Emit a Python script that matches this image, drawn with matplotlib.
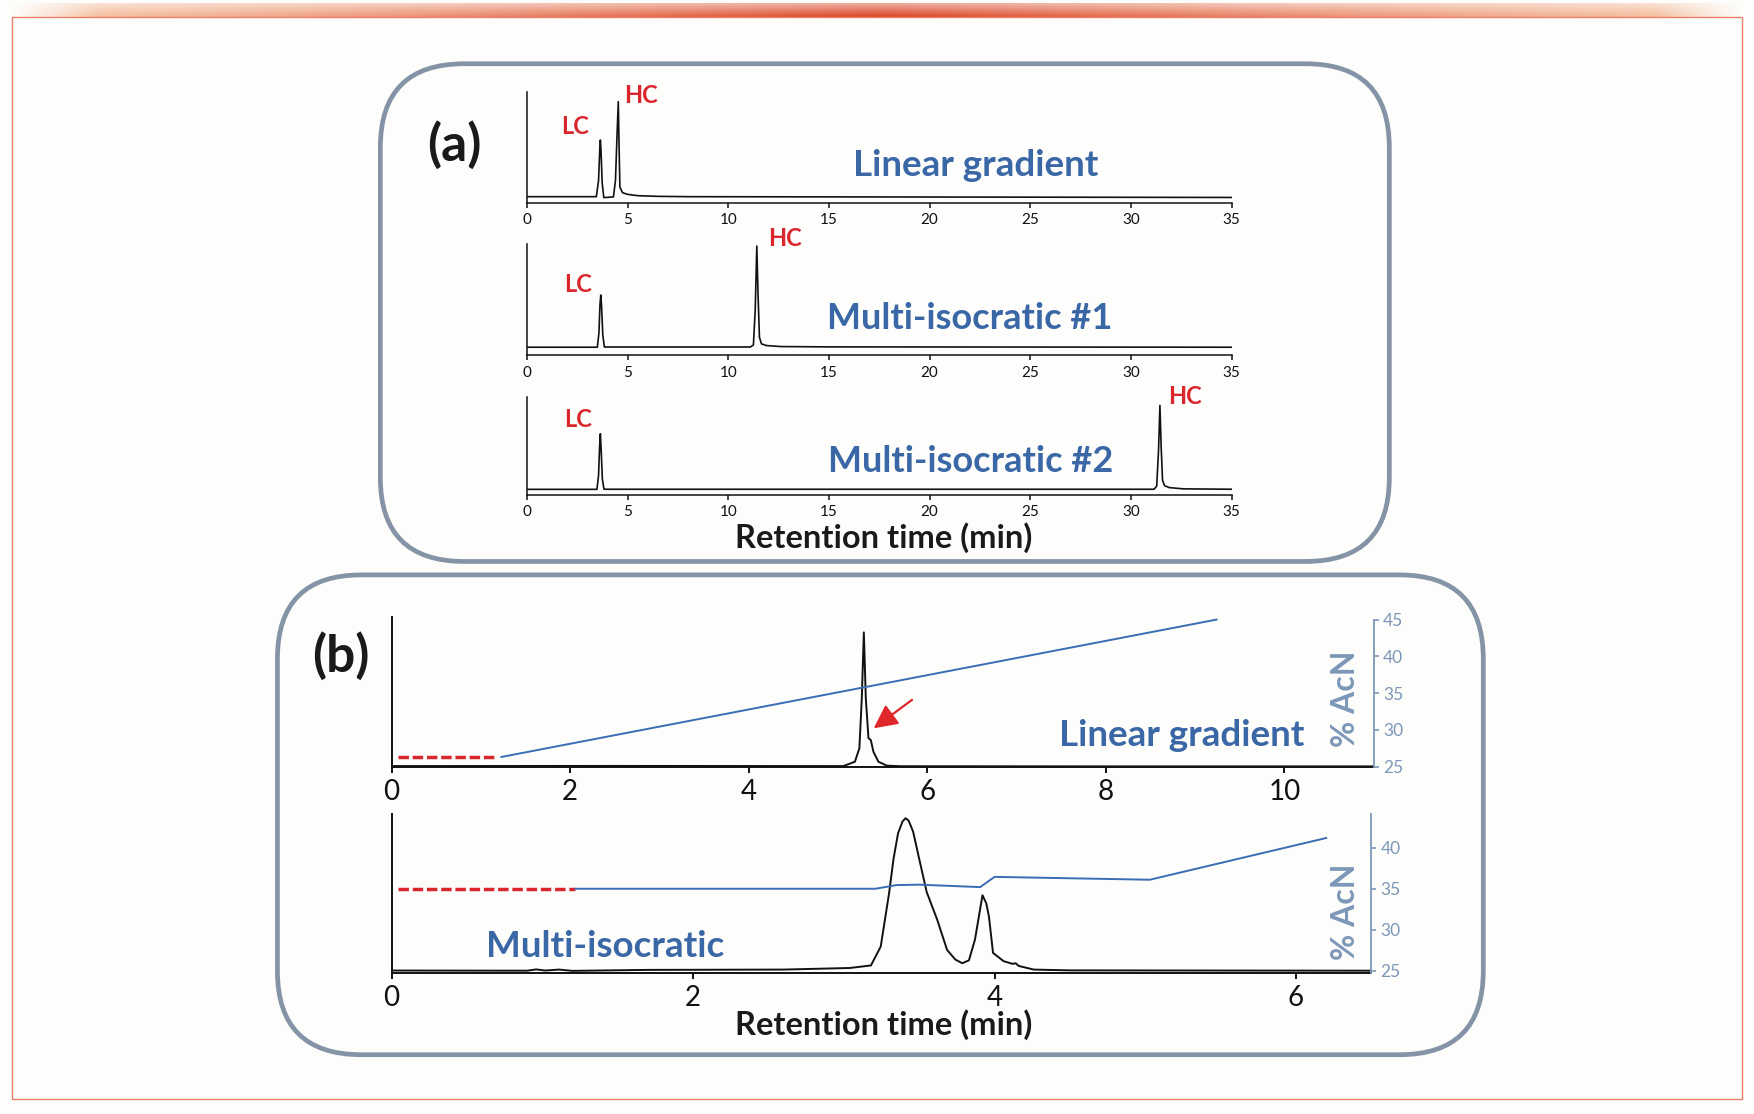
import numpy as np
import matplotlib
matplotlib.use('Agg')
import matplotlib.pyplot as plt
from matplotlib.patches import FancyBboxPatch, Rectangle

plt.rcParams['font.family'] = ['Lato', 'DejaVu Sans']

# ---- data ----
# panel (a): retention time (min) vs detector signal (% of axis height)
a_lin_t = [0, 3.45, 3.56, 3.62, 3.65, 3.68, 3.74, 3.82, 4.0, 4.3, 4.4, 4.48, 4.54,
           4.58, 4.62, 4.75, 5.0, 5.5, 6.5, 8, 35]
a_lin_y = [5.4, 5.4, 20, 48, 56.5, 48, 18, 4.6, 4.8, 5.2, 20, 62, 91,
           50, 14, 9, 7.5, 6.3, 5.7, 5.4, 4.7]

a_iso1_t = [0, 3.5, 3.58, 3.63, 3.67, 3.71, 3.77, 3.85, 11.1, 11.25, 11.34, 11.42,
            11.48, 11.55, 11.65, 11.9, 12.6, 15, 35]
a_iso1_y = [7, 7, 20, 45, 54, 44, 18, 7.2, 7.2, 9, 40, 98,
            55, 16, 10, 8.5, 7.6, 7.3, 7]

a_iso2_t = [0, 3.48, 3.56, 3.61, 3.65, 3.69, 3.75, 3.83, 31.15, 31.28, 31.37, 31.44,
            31.5, 31.57, 31.67, 31.9, 32.6, 35]
a_iso2_y = [5.7, 5.7, 20, 48, 62.5, 46, 16, 5.8, 5.8, 9, 45, 91.5,
            50, 15, 9.5, 7.5, 6.2, 5.8]

a_ticks = [0, 5, 10, 15, 20, 25, 30, 35]

# panel (b), linear gradient run
b_lin_t = [0, 2.5, 4.8, 5.06, 5.19, 5.24, 5.267, 5.29, 5.312, 5.342, 5.368,
           5.397, 5.453, 5.547, 5.7, 8, 11]
b_lin_y = [0.8, 0.9, 0.8, 0.8, 3.7, 12.7, 46, 90, 46, 19.4, 18.2,
           10.4, 3.7, 1.1, 0.7, 0.6, 0.6]
b_lin_equil_t = [0.07, 1.18]
b_lin_equil_acn = [26.3, 26.3]
b_lin_grad_t = [1.23, 9.24]
b_lin_grad_acn = [26.3, 45.0]

# panel (b), multi-isocratic run
b_iso_t = [0, 0.9, 0.96, 1.02, 1.11, 1.2, 1.7, 2.6, 3.04, 3.18, 3.245, 3.30, 3.33,
           3.36, 3.39, 3.41, 3.43, 3.46, 3.50, 3.55, 3.62, 3.685, 3.74, 3.786, 3.83,
           3.87, 3.92, 3.945, 3.963, 3.99, 4.06, 4.12, 4.14, 4.16, 4.26, 4.5, 6.5]
b_iso_y = [1.6, 1.5, 2.3, 1.6, 2.2, 1.4, 2.0, 2.2, 3.2, 4.8, 16.7, 50, 72,
           88, 95.5, 97.5, 96, 89, 72, 51, 33.5, 14.6, 8.5, 6.2, 8,
           21, 49, 44, 35.5, 12.7, 7.5, 5.8, 6.2, 4.5, 2.2, 1.7, 1.5]
b_iso_equil_t = [0.04, 1.22]
b_iso_equil_acn = [35, 35]
b_iso_grad_t = [1.22, 3.21, 3.35, 3.5, 3.905, 4.0, 5.03, 6.2]
b_iso_grad_acn = [35, 35, 35.45, 35.5, 35.2, 36.45, 36.1, 41.2]

# ---- colours ----
BLUE_TXT = '#3a67a6'
RED = '#d9262c'
GRAD_BLUE = '#3a6db3'
ACN = '#7d97b8'
FRAME = '#8593a7'
BG = '#fdfdfb'

W, H = 1568, 996   # layout units (pixels of the reference at this scale)


def box(x0, x1, ytop, ybot):
    return [x0 / W, 1 - ybot / H, (x1 - x0) / W, (ybot - ytop) / H]


fig = plt.figure(figsize=(17.54, 11.14), dpi=100, facecolor=BG)

# background layer: top bar, frame, rounded panels, big labels
bg = fig.add_axes([0, 0, 1, 1])
bg.set_xlim(0, W)
bg.set_ylim(H, 0)
bg.axis('off')

n = 800
u = np.linspace(-1, 1, n)
t = 1 - np.abs(u)
c_edge = np.array([0.97, 0.78, 0.66])
c_mid = np.array([0.86, 0.27, 0.15])
mix = t ** 1.2
bar = np.zeros((12, n, 4))
bar[..., :3] = c_edge + (c_mid - c_edge) * mix[None, :, None]
valpha = np.linspace(0.45, 1, 12)[:, None]
bar[..., 3] = valpha * np.clip(t / 0.1, 0, 1)[None, :]
bg.imshow(bar, extent=[10, 1558, 15, 3], aspect='auto', interpolation='bilinear', zorder=1)

bg.add_patch(Rectangle((11, 15), 1546, 968, fill=False, ec='#ec7f6a', lw=1.0, zorder=1))
bg.add_patch(FancyBboxPatch((340, 57), 902, 445, boxstyle='round,pad=0,rounding_size=75',
                            ec=FRAME, fc=BG, lw=3.4, zorder=2))
bg.add_patch(FancyBboxPatch((248, 514), 1078, 429, boxstyle='round,pad=0,rounding_size=75',
                            ec=FRAME, fc=BG, lw=3.4, zorder=2))

bold = dict(fontweight='bold', ha='center', va='center', zorder=5)
bg.text(406, 130, '(a)', fontsize=37, color='#1a1a1a', **bold)
bg.text(872, 148, 'Linear gradient', fontsize=26.5, color=BLUE_TXT, **bold)
bg.text(867, 285, 'Multi-isocratic #1', fontsize=26, color=BLUE_TXT, **bold)
bg.text(868, 413, 'Multi-isocratic #2', fontsize=26, color=BLUE_TXT, **bold)
bg.text(790, 481, 'Retention time (min)', fontsize=23.5, color='#1a1a1a', **bold)
bg.text(305, 587, '(b)', fontsize=37, color='#1a1a1a', **bold)
bg.text(1056, 658, 'Linear gradient', fontsize=26.5, color=BLUE_TXT, **bold)
bg.text(1203, 625, '% AcN', fontsize=23, color=ACN, rotation=90, **bold)
bg.text(1203, 815, '% AcN', fontsize=23, color=ACN, rotation=90, **bold)
bg.text(541, 846, 'Multi-isocratic', fontsize=26.5, color=BLUE_TXT, **bold)
bg.text(790, 916, 'Retention time (min)', fontsize=23.5, color='#1a1a1a', **bold)


def chrom_axes(rect, xmax, ticks, fs, ticklen, lw):
    ax = fig.add_axes(rect)
    ax.set_facecolor('none')
    ax.set_xlim(0, xmax)
    ax.set_ylim(0, 100)
    ax.set_yticks([])
    ax.set_xticks(ticks)
    for s in ['top', 'right']:
        ax.spines[s].set_visible(False)
    for s in ['left', 'bottom']:
        ax.spines[s].set_linewidth(lw)
        ax.spines[s].set_color('#111111')
    ax.tick_params(axis='x', direction='out', length=ticklen, width=lw,
                   labelsize=fs, pad=4, colors='#111111')
    return ax


def peak_label(ax, x, y, s):
    ax.text(x, y, s, fontsize=17, fontweight='bold', color=RED,
            ha='center', va='center', clip_on=False)


# ---- panel (a) ----
ax1 = chrom_axes(box(471, 1101, 82, 181.2), 35, a_ticks, 11, 3.6, 1.1)
ax1.plot(a_lin_t, a_lin_y, color='#111111', lw=1.2)
peak_label(ax1, 2.39, 68.7, 'LC')
peak_label(ax1, 5.67, 97, 'HC')

ax2 = chrom_axes(box(471, 1101, 218, 317.4), 35, a_ticks, 11, 3.6, 1.1)
ax2.plot(a_iso1_t, a_iso1_y, color='#111111', lw=1.2)
peak_label(ax2, 2.56, 63.8, 'LC')
peak_label(ax2, 12.83, 105, 'HC')

ax3 = chrom_axes(box(471, 1101, 355, 442.5), 35, a_ticks, 11, 3.6, 1.1)
ax3.plot(a_iso2_t, a_iso2_y, color='#111111', lw=1.2)
peak_label(ax3, 2.56, 76.7, 'LC')
peak_label(ax3, 32.7, 100.6, 'HC')


def acn_axis(ax, lo, hi, ticks, bounds):
    r = ax.twinx()
    r.set_ylim(lo, hi)
    r.set_yticks(ticks)
    for s in ['top', 'left', 'bottom']:
        r.spines[s].set_visible(False)
    r.spines['right'].set_color(ACN)
    r.spines['right'].set_linewidth(1.3)
    if bounds:
        r.spines['right'].set_bounds(*bounds)
    r.tick_params(axis='y', colors=ACN, length=3.6, width=1.2, labelsize=12.5, pad=3)
    return r


# ---- panel (b), linear gradient ----
bx1 = chrom_axes(box(350, 1228, 552, 686), 11, [0, 2, 4, 6, 8, 10], 20, 4.5, 1.4)
bx1.plot(b_lin_t, b_lin_y, color='#111111', lw=1.4)
bx1.annotate('', xy=(5.40, 26), xytext=(5.83, 45),
             arrowprops=dict(arrowstyle='-|>,head_length=0.8,head_width=0.4',
                             color='#e0282c', lw=1.6, shrinkA=0, shrinkB=0,
                             mutation_scale=18))
br1 = acn_axis(bx1, 24.9, 45.3, [25, 30, 35, 40, 45], (25, 45))
br1.plot(b_lin_equil_t, b_lin_equil_acn, color=RED, lw=2.5, ls=(0, (3, 1.1)))
br1.plot(b_lin_grad_t, b_lin_grad_acn, color=GRAD_BLUE, lw=1.4)

# ---- panel (b), multi-isocratic ----
bx2 = chrom_axes(box(350, 1226, 728, 870), 6.5, [0, 2, 4, 6], 20, 4.5, 1.4)
bx2.plot(b_iso_t, b_iso_y, color='#111111', lw=1.4)
br2 = acn_axis(bx2, 24.7, 44.1, [25, 30, 35, 40], None)
br2.plot(b_iso_equil_t, b_iso_equil_acn, color=RED, lw=2.5, ls=(0, (3, 1.1)))
br2.plot(b_iso_grad_t, b_iso_grad_acn, color=GRAD_BLUE, lw=1.4)

fig.savefig('out.png', dpi=100, facecolor=BG)
